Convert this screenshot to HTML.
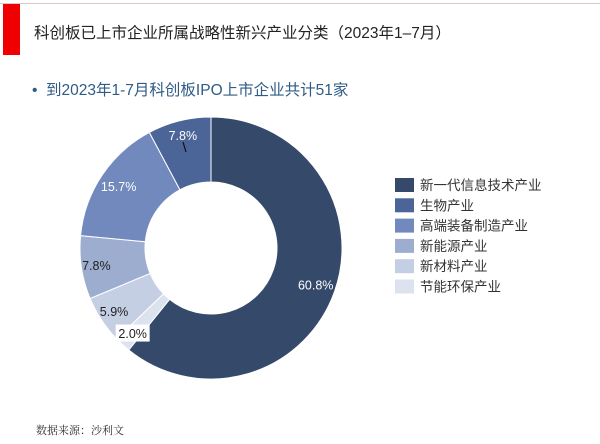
<!DOCTYPE html>
<html><head><meta charset="utf-8"><style>
body{margin:0;width:600px;height:444px;background:#fff;overflow:hidden;position:relative;font-family:"Liberation Sans","Noto Sans CJK SC",sans-serif}
.t{position:absolute;white-space:nowrap}
</style></head><body>
<div style="position:absolute;left:0;top:3px;width:600px;height:1px;background:#d9c8c8"></div>
<div style="position:absolute;left:3px;top:4px;width:17px;height:51px;background:#f00000"></div>
<div class="t" style="left:34px;top:21px;font-size:15.5px;color:#222">科创板已上市企业所属战略性新兴产业分类（2023年1–7月）</div>
<div class="t" style="left:32px;top:78px;font-size:15.5px;color:#2f5b86">•&nbsp;&nbsp;到2023年1-7月科创板IPO上市企业共计51家</div>
<svg id="chart" width="600" height="444" style="position:absolute;left:0;top:0"></svg>
<div class="t" style="left:36px;top:422px;font-size:11px;color:#333;font-family:'Liberation Serif','Noto Serif CJK SC',serif">数据来源：沙利文</div>
<script>
const categories=["新一代信息技术产业","生物产业","高端装备制造产业","新能源产业","新材料产业","节能环保产业"];
const values=[60.8,7.8,15.7,7.8,5.9,2.0];
const labels=["60.8%","7.8%","15.7%","7.8%","5.9%","2.0%"];
const drawOrder=[0,5,4,3,2,1];
const colors=["#35496b","#4b6598","#7189bd","#9cadd0","#c4cfe3","#dde3ee"];
const labelColors=["#fff","#fff","#fff","#222","#222","#222"];
const svg=document.getElementById('chart');
const NS="http://www.w3.org/2000/svg";
const cx=211,cy=248,R=131,r=66;
const total=values.reduce((a,b)=>a+b,0);
function pt(a,rad){return [cx+rad*Math.sin(a),cy-rad*Math.cos(a)];}
let acc=0;
const labelPos=[];
drawOrder.forEach(i=>{
  const v=values[i];
  const a0=acc/total*2*Math.PI,a1=(acc+v)/total*2*Math.PI;acc+=v;
  const lg=(a1-a0)>Math.PI?1:0;
  const p0=pt(a0,R),p1=pt(a1,R),q1=pt(a1,r),q0=pt(a0,r);
  const p=document.createElementNS(NS,'path');
  p.setAttribute('d',`M${p0[0]},${p0[1]}A${R},${R} 0 ${lg} 1 ${p1[0]},${p1[1]}L${q1[0]},${q1[1]}A${r},${r} 0 ${lg} 0 ${q0[0]},${q0[1]}Z`);
  p.setAttribute('fill',colors[i]);p.setAttribute('stroke','#fff');p.setAttribute('stroke-width','1');
  
  
  svg.appendChild(p);
  const am=(a0+a1)/2;
  const rr=i==0?111:(i==2?111:116);
  labelPos.push([i,pt(am,rr)]);
});
labelPos.forEach(([i,[lx,ly]])=>{
  if(i==5){
    const bg=document.createElementNS(NS,'rect');
    bg.setAttribute('x',lx-17);bg.setAttribute('y',ly-9);bg.setAttribute('width',34);bg.setAttribute('height',17);bg.setAttribute('fill','#fff');
    
    
    svg.appendChild(bg);
  }
  const t=document.createElementNS(NS,'text');
  t.setAttribute('x',lx);t.setAttribute('y',ly+4.5);t.setAttribute('text-anchor','middle');
  t.setAttribute('font-size','12.5');t.setAttribute('fill',labelColors[i]);
  t.setAttribute('font-family','Liberation Sans, sans-serif');
  t.textContent=labels[i];
  
  
  svg.appendChild(t);
});
const ln=document.createElementNS(NS,'line');
ln.setAttribute('x1',183);ln.setAttribute('y1',142);ln.setAttribute('x2',186);ln.setAttribute('y2',152);
ln.setAttribute('stroke','#111');ln.setAttribute('stroke-width','1.2');


svg.appendChild(ln);
categories.forEach((c,i)=>{
  const y=185+i*20.3;
  const s=document.createElementNS(NS,'rect');
  s.setAttribute('x',395);s.setAttribute('y',y-7);s.setAttribute('width',19);s.setAttribute('height',14);s.setAttribute('fill',colors[i]);
  
  
  svg.appendChild(s);
  const t=document.createElementNS(NS,'text');
  t.setAttribute('x',420);t.setAttribute('y',y+5);t.setAttribute('font-size','13.5');t.setAttribute('fill','#333');
  t.setAttribute('font-family','Liberation Sans, Noto Sans CJK SC, sans-serif');
  t.textContent=c;
  
  
  svg.appendChild(t);
});
</script>
</body></html>
